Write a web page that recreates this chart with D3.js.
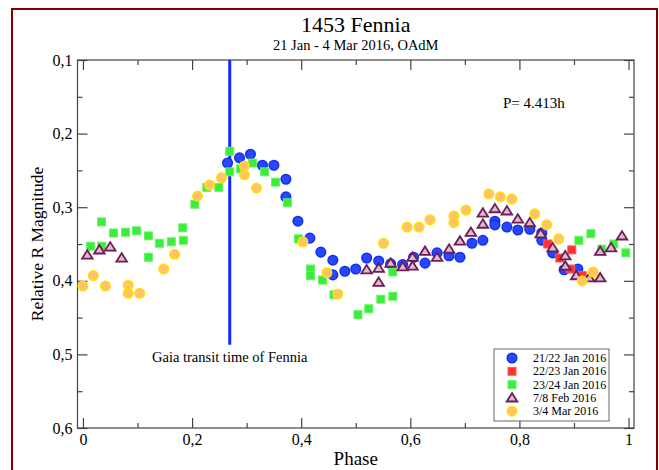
<!DOCTYPE html>
<html><head><meta charset="utf-8">
<script src="https://cdn.jsdelivr.net/npm/d3@7"></script>
<style>body{margin:0;background:#fff}svg{display:block}text{font-family:"Liberation Serif","Times New Roman",serif;fill:#000}</style>
</head><body><svg id="c" width="659" height="470"></svg>
<script>
const title = "1453 Fennia";
const subtitle = "21 Jan - 4 Mar 2016, OAdM";
const xLabel = "Phase";
const yLabel = "Relative R Magnitude";
const periodText = "P= 4.413h";
const gaiaText = "Gaia transit time of Fennia";
const gaiaPhase = 0.269;
const gaiaEnd = 0.487;
const xTicks = [0, 0.2, 0.4, 0.6, 0.8, 1];
const xMinor = [0.1, 0.3, 0.5, 0.7, 0.9];
const yTicks = [0.1, 0.2, 0.3, 0.4, 0.5, 0.6];
const yMinor = [0.15, 0.25, 0.35, 0.45, 0.55];
const seriesNames = ["21/22 Jan 2016", "22/23 Jan 2016", "23/24 Jan 2016", "7/8 Feb 2016", "3/4 Mar 2016"];

// [phase, relative R magnitude]
const jan21 = [[0.265,0.240],[0.287,0.233],[0.307,0.228],[0.329,0.243],[0.350,0.243],[0.372,0.262],[0.372,0.286],[0.394,0.319],[0.416,0.342],[0.436,0.361],[0.458,0.372],[0.458,0.392],[0.480,0.387],[0.500,0.384],[0.520,0.369],[0.542,0.373],[0.564,0.377],[0.586,0.378],[0.606,0.368],[0.627,0.376],[0.649,0.362],[0.671,0.366],[0.691,0.368],[0.713,0.349],[0.733,0.345],[0.755,0.319],[0.755,0.324],[0.777,0.327],[0.797,0.331],[0.819,0.330],[0.841,0.335],[0.841,0.345],[0.861,0.362],[0.882,0.385],[0.907,0.384]];
const jan22 = [[0.852,0.350],[0.874,0.369],[0.896,0.358],[0.894,0.384],[0.915,0.393]];
const jan23 = [[0.014,0.353],[0.034,0.320],[0.034,0.353],[0.056,0.335],[0.078,0.334],[0.098,0.332],[0.120,0.339],[0.120,0.368],[0.140,0.349],[0.162,0.347],[0.183,0.328],[0.184,0.345],[0.205,0.296],[0.227,0.273],[0.249,0.273],[0.269,0.224],[0.269,0.252],[0.289,0.248],[0.311,0.240],[0.333,0.252],[0.353,0.266],[0.375,0.294],[0.395,0.343],[0.417,0.384],[0.417,0.393],[0.439,0.399],[0.460,0.419],[0.504,0.446],[0.524,0.438],[0.546,0.425],[0.568,0.421],[0.568,0.388],[0.909,0.345],[0.931,0.336],[0.951,0.357],[0.973,0.350],[0.995,0.362]];
const feb7 = [[0.008,0.365],[0.030,0.358],[0.050,0.354],[0.071,0.369],[0.520,0.385],[0.542,0.383],[0.542,0.402],[0.564,0.376],[0.586,0.381],[0.604,0.368],[0.604,0.380],[0.627,0.360],[0.649,0.368],[0.671,0.357],[0.691,0.346],[0.711,0.334],[0.733,0.308],[0.733,0.323],[0.755,0.302],[0.777,0.305],[0.797,0.316],[0.819,0.321],[0.839,0.336],[0.861,0.355],[0.884,0.366],[0.884,0.380],[0.904,0.393],[0.928,0.396],[0.948,0.396],[0.948,0.360],[0.968,0.355],[0.988,0.339]];
const mar3 = [[0.000,0.407],[0.019,0.393],[0.041,0.407],[0.083,0.406],[0.083,0.417],[0.104,0.417],[0.148,0.384],[0.168,0.364],[0.210,0.285],[0.232,0.270],[0.254,0.260],[0.296,0.244],[0.296,0.256],[0.318,0.274],[0.403,0.347],[0.447,0.389],[0.467,0.418],[0.551,0.349],[0.594,0.327],[0.616,0.327],[0.636,0.317],[0.680,0.312],[0.680,0.321],[0.702,0.304],[0.744,0.282],[0.765,0.286],[0.786,0.289],[0.828,0.309],[0.850,0.324],[0.872,0.343],[0.915,0.400],[0.935,0.388]];

const styles = [
  {shape:"circle", fill:"#2a46ff", stroke:"#1030f0"},
  {shape:"square", fill:"#ff3030", stroke:"#ff5a5a"},
  {shape:"square", fill:"#3cec3c", stroke:"#66f566"},
  {shape:"triangle", fill:"#d9bccd", stroke:"#6e1d55"},
  {shape:"circle", fill:"#ffc36a", stroke:"#ffe000"}
];
const allSeries = [jan21, jan22, jan23, feb7, mar3];

const svg = d3.select("#c");
const L = 77.5, R = 634, T = 60, B = 428;
const x = d3.scaleLinear().domain([-0.01, 1.01]).range([L, R]);
const y = d3.scaleLinear().domain([0.1, 0.6]).range([T, B]);

// outer frame
svg.append("rect").attr("x", 12).attr("y", 9).attr("width", 645).attr("height", 480)
  .attr("fill", "none").attr("stroke", "#800000").attr("stroke-width", 2);

// titles
svg.append("text").attr("x", (L+R)/2).attr("y", 32).attr("text-anchor","middle").attr("font-size", 22).text(title);
svg.append("text").attr("x", (L+R)/2).attr("y", 50).attr("text-anchor","middle").attr("font-size", 14.5).text(subtitle);

// axes
const fmt = d => d3.format(".1f")(d).replace(".", ",").replace(/^0,0$/, "0").replace(/^1,0$/, "1");
const axColor = "#444";
function styleAxis(g){ g.select(".domain").remove(); g.selectAll("line").attr("stroke", axColor).attr("stroke-width", 1.2); g.selectAll("text").attr("font-size", 16).attr("font-family", "Liberation Serif, serif"); }
const xb = svg.append("g").attr("transform", `translate(0,${B})`).call(d3.axisBottom(x).tickValues(xTicks).tickSize(-10).tickPadding(6).tickFormat(d => d===0?"0":d===1?"1":fmt(d))).call(styleAxis);
svg.append("g").attr("transform", `translate(0,${B})`).call(d3.axisBottom(x).tickValues(xMinor).tickSize(-5).tickFormat("")).call(styleAxis);
svg.append("g").attr("transform", `translate(0,${T})`).call(d3.axisTop(x).tickValues(xTicks).tickSize(-10).tickFormat("")).call(styleAxis);
svg.append("g").attr("transform", `translate(0,${T})`).call(d3.axisTop(x).tickValues(xMinor).tickSize(-5).tickFormat("")).call(styleAxis);
svg.append("g").attr("transform", `translate(${L},0)`).call(d3.axisLeft(y).tickValues(yTicks).tickSize(-10).tickPadding(5).tickFormat(d => d3.format(".1f")(d).replace(".", ","))).call(styleAxis);
svg.append("g").attr("transform", `translate(${L},0)`).call(d3.axisLeft(y).tickValues(yMinor).tickSize(-5).tickFormat("")).call(styleAxis);
svg.append("g").attr("transform", `translate(${R},0)`).call(d3.axisRight(y).tickValues(yTicks).tickSize(-10).tickFormat("")).call(styleAxis);
svg.append("g").attr("transform", `translate(${R},0)`).call(d3.axisRight(y).tickValues(yMinor).tickSize(-5).tickFormat("")).call(styleAxis);
svg.append("rect").attr("x", L).attr("y", T).attr("width", R-L).attr("height", B-T)
  .attr("fill","none").attr("stroke", axColor).attr("stroke-width", 1.2);

svg.append("text").attr("x", (L+R)/2).attr("y", 465).attr("text-anchor","middle").attr("font-size", 19).text(xLabel);
svg.append("text").attr("transform", `translate(43,${(T+B)/2}) rotate(-90)`).attr("text-anchor","middle").attr("font-size", 17.5).text(yLabel);

// gaia line
svg.append("line").attr("x1", x(gaiaPhase)).attr("x2", x(gaiaPhase)).attr("y1", y(0.1)).attr("y2", y(gaiaEnd))
  .attr("stroke", "#1428ff").attr("stroke-width", 3);
svg.append("text").attr("x", 152).attr("y", 362).attr("font-size", 14.5).text(gaiaText);
svg.append("text").attr("x", 503).attr("y", 108).attr("font-size", 15).text(periodText);

function drawSym(g, st, cx, cy){
  if (st.shape === "circle") {
    g.append("circle").attr("cx", cx).attr("cy", cy).attr("r", 4.8).attr("fill", st.fill).attr("stroke", st.stroke).attr("stroke-width", 1.5);
  } else if (st.shape === "square") {
    g.append("rect").attr("x", cx-4).attr("y", cy-4).attr("width", 8).attr("height", 8).attr("fill", st.fill).attr("stroke", st.stroke).attr("stroke-width", 1);
  } else {
    const h = 4.8;
    g.append("path").attr("d", `M${cx},${cy-h}L${cx+h*1.1},${cy+h*0.75}L${cx-h*1.1},${cy+h*0.75}Z`).attr("fill", st.fill).attr("stroke", st.stroke).attr("stroke-width", 1.8).attr("stroke-linejoin","miter");
  }
}
const plot = svg.append("g");
allSeries.forEach((s, i) => {
  const g = plot.append("g");
  s.forEach(d => drawSym(g, styles[i], x(d[0]), y(d[1])));
});

// legend
const lg = svg.append("g");
lg.append("rect").attr("x", 494).attr("y", 349).attr("width", 115).attr("height", 72).attr("fill","#fff").attr("stroke","#666").attr("stroke-width",1);
seriesNames.forEach((n, i) => {
  const cy = 358 + i*13.3;
  drawSym(lg, styles[i], 512, cy);
  lg.append("text").attr("x", 533).attr("y", cy+4).attr("font-size", 12).text(n);
});
</script></body></html>
